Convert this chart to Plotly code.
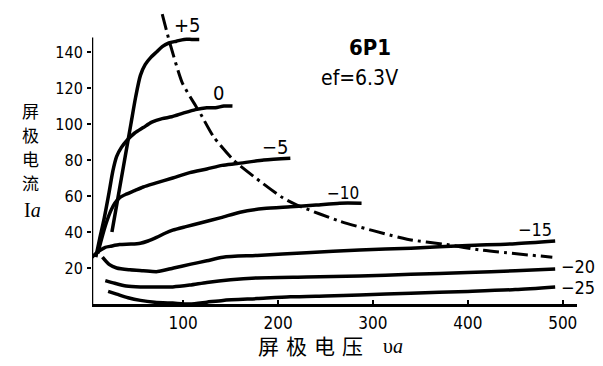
import plotly.graph_objects as go

# Grid-voltage curves (plate voltage V, plate current mA)
v_p5 = [25, 29, 33, 37, 41, 45, 50, 55, 60, 66, 72, 78, 85, 93, 101, 109, 117]
i_p5 = [40, 52, 64, 76, 88, 100, 115, 127, 133, 137, 140, 143, 145, 146, 147, 147, 147]

v_0 = [8, 12, 17, 22, 26, 30, 35, 41, 49, 58, 67, 78, 88, 100, 113, 125, 134, 143, 152]
i_0 = [26, 36, 48, 62, 74, 82, 87, 91, 95, 98, 101, 103, 104, 106, 108, 109, 109, 110, 110]

v_m5 = [10, 14, 19, 24, 28, 33, 40, 49, 58, 70, 89, 107, 125, 141, 157, 185, 213]
i_m5 = [28, 36, 45, 52, 56, 59, 61, 63, 65, 67, 70, 73, 75, 77, 78, 80, 81]

v_m10 = [4, 8, 13, 18, 23, 33, 45, 55, 63, 72, 81, 89, 103, 118, 140, 160, 185, 213, 240, 265, 288]
i_m10 = [26, 28, 30, 31.5, 32, 33, 33.3, 33.8, 35, 37, 39.3, 41, 43, 45, 48, 51, 53, 54, 55, 56, 56]

v_m15 = [15, 22, 30, 44, 58, 73, 90, 107, 125, 142, 178, 230, 286, 340, 400, 450, 492]
i_m15 = [26, 22, 20, 19, 18.5, 18, 20, 22, 24, 26, 27, 28.5, 30, 31, 32.5, 33.5, 35]

v_m20 = [18, 28, 40, 55, 70, 89, 107, 125, 150, 178, 230, 286, 340, 400, 450, 492]
i_m20 = [13, 11.5, 10, 9.5, 9.5, 9.5, 10.5, 12, 13.5, 14.5, 15, 15.5, 16.5, 17.5, 18.5, 19.5]

v_m25 = [21, 30, 42, 55, 70, 89, 107, 125, 142, 178, 213, 250, 286, 340, 400, 450, 492]
i_m25 = [7, 5.5, 3.5, 2, 1, 0.5, 0, 1, 2, 3, 4, 4.5, 5, 6, 7, 8, 9.5]

# Maximum plate dissipation curve (dash-dot)
v_pmax = [78, 86, 99, 111, 118, 132, 153, 174, 205, 220, 265, 336, 378, 413, 489]
i_pmax = [161, 145, 123, 112, 106, 93, 80, 71, 59, 55, 46, 36, 33, 30, 26]

curves = [(v_p5, i_p5), (v_0, i_0), (v_m5, i_m5), (v_m10, i_m10),
          (v_m15, i_m15), (v_m20, i_m20), (v_m25, i_m25)]

x_ticks = [100, 200, 300, 400, 500]
y_ticks = [20, 40, 60, 80, 100, 120, 140]

W, H = 603, 366
L, R, T, B = 92, 26, 10, 62
PW, PH = W - L - R, H - T - B

def px(x):
    return (x - L) / PW

def py(y):
    return (H - B - y) / PH

NUM = "Liberation Sans Narrow, DejaVu Sans Condensed, Arial Narrow, sans-serif"
CJK = "Noto Sans CJK SC, sans-serif"
SERIF = "Liberation Serif, serif"

fig = go.Figure()
for v, i in curves:
    fig.add_trace(go.Scatter(x=v, y=i, mode="lines",
                             line=dict(color="black", width=3.5, shape="spline", smoothing=0.7),
                             hoverinfo="skip", showlegend=False))
fig.add_trace(go.Scatter(x=v_pmax, y=i_pmax, mode="lines",
                         line=dict(color="black", width=3, dash="16px,5px,3px,5px",
                                   shape="spline", smoothing=0.6),
                         hoverinfo="skip", showlegend=False))

# y axis line (only up to ~148)
fig.add_shape(type="line", xref="x", yref="y", x0=4, x1=4, y0=0, y1=148,
              line=dict(color="black", width=2.5))

def txt(t, x, y, size, family=NUM):
    return dict(text=t, x=px(x), y=py(y), xref="paper", yref="paper",
                showarrow=False, xanchor="center", yanchor="middle",
                borderpad=0,
                font=dict(family=family, size=size, color="black"))

labels = [
    ("+5", 187, 25, 20), ("0", 218, 93, 20), ("−5", 275, 147, 20),
    ("−10", 343, 193, 17), ("−15", 535, 229, 18), ("−20", 578, 266, 18),
    ("−25", 578, 287, 18),
]
ann = [txt(t, x, y, s) for t, x, y, s in labels]
ann.append(txt("<b>6P1</b>", 370, 47, 22))
ann.append(txt("ef=6.3V", 359, 78, 21))
for ch, y in [("屏", 110), ("极", 134), ("电", 158), ("流", 182)]:
    ann.append(txt(ch, 30, y, 17, CJK))
ann.append(txt("I<i>a</i>", 32, 210, 20, SERIF))
for ch, x in [("屏", 268), ("极", 296), ("电", 324), ("压", 352)]:
    ann.append(txt(ch, x, 345, 21, CJK))
ann.append(txt("υ<i>a</i>", 393, 346, 20, SERIF))

fig.update_layout(
    width=W, height=H,
    margin=dict(l=L, r=R, t=T, b=B, pad=0),
    paper_bgcolor="white", plot_bgcolor="white",
    annotations=ann,
    xaxis=dict(range=[4, 515], showgrid=False, zeroline=False,
               showline=True, linecolor="black", linewidth=2.5,
               tickvals=x_ticks, ticktext=[str(t) for t in x_ticks],
               ticks="inside", ticklen=4, tickwidth=2, tickcolor="black",
               tickfont=dict(family=NUM, size=17, color="black"), ticklabelstandoff=2),
    yaxis=dict(range=[0, (H - B - T) / 1.8], showgrid=False, zeroline=False,
               showline=False,
               tickvals=y_ticks, ticktext=[str(t) for t in y_ticks],
               ticks="outside", ticklen=4, tickwidth=2, tickcolor="black",
               tickfont=dict(family=NUM, size=16, color="black"), ticklabelstandoff=1),
)

fig.write_html("out.html")
